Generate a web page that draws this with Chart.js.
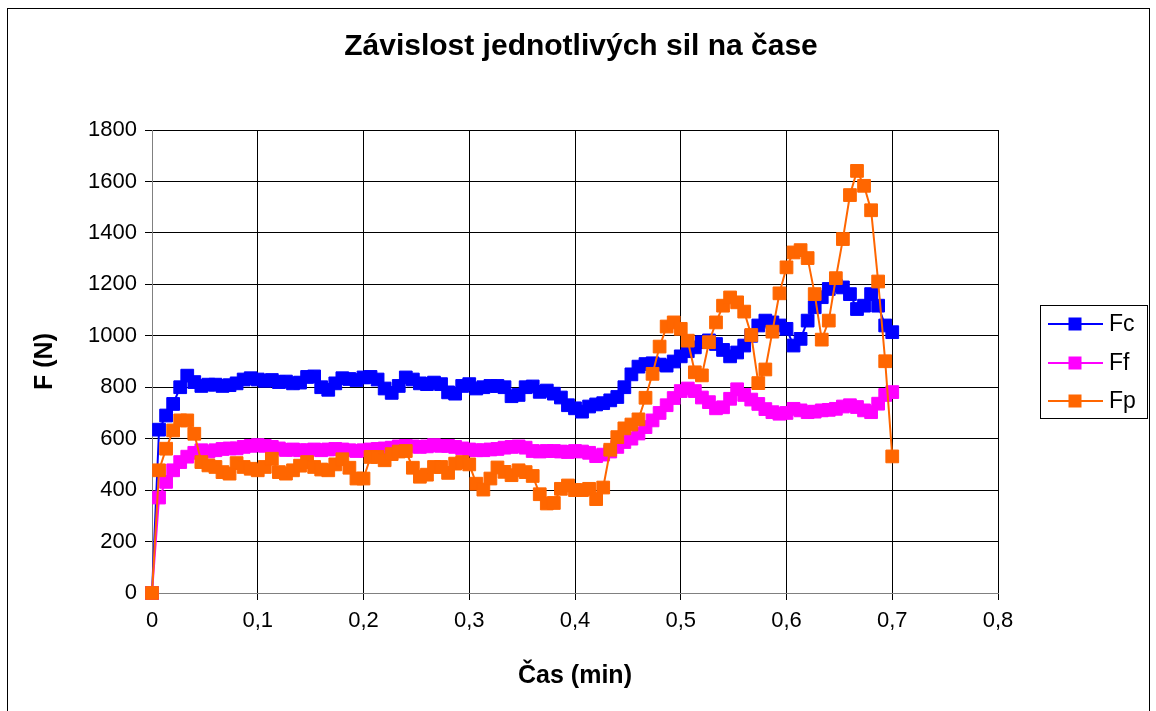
<!DOCTYPE html>
<html lang="cs">
<head>
    <meta charset="UTF-8">
    <title>Závislost jednotlivých sil na čase</title>
    <style>
        body { margin: 0; background: #fff; }
        canvas { display: block; }
    </style>
</head>
<body>
    <canvas id="myChart" width="1156" height="711"></canvas>
    <script src="https://cdn.jsdelivr.net/npm/chart.js"></script>
    <script>
        // sampling instants in seconds (one reading every 0.4 s)
        var timeSec = [0, 0.4, 0.8, 1.2, 1.6, 2, 2.4, 2.8, 3.2, 3.6, 4, 4.4, 4.8, 5.2, 5.6, 6, 6.4, 6.8, 7.2, 7.6,
            8, 8.4, 8.8, 9.2, 9.6, 10, 10.4, 10.8, 11.2, 11.6, 12, 12.4, 12.8, 13.2, 13.6, 14, 14.4, 14.8, 15.2, 15.6,
            16, 16.4, 16.8, 17.2, 17.6, 18, 18.4, 18.8, 19.2, 19.6, 20, 20.4, 20.8, 21.2, 21.6, 22, 22.4, 22.8, 23.2, 23.6,
            24, 24.4, 24.8, 25.2, 25.6, 26, 26.4, 26.8, 27.2, 27.6, 28, 28.4, 28.8, 29.2, 29.6, 30, 30.4, 30.8, 31.2, 31.6,
            32, 32.4, 32.8, 33.2, 33.6, 34, 34.4, 34.8, 35.2, 35.6, 36, 36.4, 36.8, 37.2, 37.6, 38, 38.4, 38.8, 39.2, 39.6,
            40, 40.4, 40.8, 41.2, 41.6, 42];

        var fc = [0, 635, 690, 735, 800, 845, 820, 805, 810, 810, 805, 808, 815, 830, 835, 830, 825, 828, 820, 822,
            815, 818, 840, 842, 800, 790, 815, 835, 832, 828, 838, 840, 830, 795, 778, 805, 838, 830, 815, 812,
            818, 812, 780, 775, 805, 812, 795, 800, 805, 805, 800, 765, 770, 800, 803, 782, 787, 775, 760, 730,
            718, 705, 725, 733, 738, 749, 762, 800, 850, 880, 890, 893, 888, 884, 900, 920, 940, 955, 975, 982,
            968, 945, 920, 935, 962, 1000, 1040, 1059, 1052, 1040, 1027, 962, 988, 1059, 1111, 1150, 1182, 1195, 1188, 1162,
            1104, 1117, 1162, 1117, 1040, 1014];

        var ff = [0, 371, 432, 477, 509, 530, 545, 555, 550, 555, 560, 562, 562, 568, 572, 575, 572, 568, 562, 556,
            558, 555, 555, 558, 555, 558, 560, 558, 555, 552, 555, 558, 560, 562, 565, 570, 572, 570, 568, 570,
            575, 572, 572, 568, 562, 558, 555, 555, 558, 560, 565, 568, 570, 565, 552, 550, 552, 552, 550, 548,
            552, 550, 545, 532, 538, 550, 568, 587, 600, 620, 645, 671, 700, 730, 758, 785, 795, 785, 760, 742,
            718, 722, 755, 792, 770, 752, 735, 715, 703, 697, 700, 716, 710, 703, 705, 710, 712, 716, 725, 730,
            723, 710, 703, 736, 770, 781];

        var fp = [0, 477, 561, 632, 671, 671, 619, 509, 496, 490, 470, 464, 505, 490, 483, 477, 490, 522, 470, 464,
            477, 495, 509, 490, 480, 477, 500, 520, 487, 445, 445, 529, 529, 516, 540, 550, 552, 487, 452, 460,
            490, 490, 467, 503, 509, 500, 425, 402, 445, 488, 471, 458, 477, 470, 455, 384, 348, 350, 405, 418,
            400, 400, 405, 365, 410, 557, 606, 640, 655, 675, 759, 852, 958, 1036, 1052, 1027, 981, 858, 846, 975,
            1052, 1117, 1149, 1130, 1094, 1003, 816, 869, 1016, 1165, 1266, 1324, 1333, 1302, 1162, 985, 1059, 1224, 1376, 1547,
            1641, 1583, 1488, 1211, 901, 531];

        var seriesNames = ['Fc', 'Ff', 'Fp'];
        var seriesColors = ['#0000ff', '#ff00ff', '#ff6600'];
        var xTicks = [0, 0.1, 0.2, 0.3, 0.4, 0.5, 0.6, 0.7, 0.8];
        var yTicks = [0, 200, 400, 600, 800, 1000, 1200, 1400, 1600, 1800];
        var chartTitle = 'Závislost jednotlivých sil na čase';

        var fontFamily = '"Liberation Sans", Arial, sans-serif';

        function toPoints(values){
            var pts = [];
            for(var i = 0; i < values.length; i++){
                pts.push({ x: timeSec[i] / 60, y: values[i] });
            }
            return pts;
        }

        function makeDataset(idx, values, order){
            return {
                label: seriesNames[idx],
                data: toPoints(values),
                borderColor: seriesColors[idx],
                backgroundColor: seriesColors[idx],
                borderWidth: 2,
                pointStyle: 'rect',
                pointRadius: 9,
                pointBorderWidth: 1,
                pointBackgroundColor: seriesColors[idx],
                pointBorderColor: seriesColors[idx],
                tension: 0,
                clip: false,
                order: order
            };
        }

        // white page, outer frame, title and the boxed legend on the right
        var framePlugin = {
            id: 'frame',
            beforeDraw: function(chart){
                var ctx = chart.ctx;
                ctx.save();
                ctx.fillStyle = '#fff';
                ctx.fillRect(0, 0, chart.width, chart.height);
                ctx.restore();
            },
            afterDraw: function(chart){
                var ctx = chart.ctx;
                ctx.save();
                ctx.strokeStyle = '#000';
                ctx.lineWidth = 1;
                ctx.strokeRect(7.5, 8.5, 1142, 720);

                ctx.fillStyle = '#000';
                ctx.font = 'bold 30px ' + fontFamily;
                ctx.textAlign = 'center';
                ctx.textBaseline = 'middle';
                ctx.fillText(chartTitle, 581, 47);

                ctx.strokeRect(1040.5, 305.5, 107, 113);
                var rows = [324, 363, 401];
                ctx.font = '23px ' + fontFamily;
                ctx.textAlign = 'left';
                for(var i = 0; i < seriesNames.length; i++){
                    var y = rows[i];
                    ctx.strokeStyle = seriesColors[i];
                    ctx.lineWidth = 2;
                    ctx.beginPath();
                    ctx.moveTo(1048, y);
                    ctx.lineTo(1103, y);
                    ctx.stroke();
                    ctx.fillStyle = seriesColors[i];
                    ctx.fillRect(1068.5, y - 6.5, 13, 13);
                    ctx.fillStyle = '#000';
                    ctx.fillText(seriesNames[i], 1109, y + 1);
                }
                ctx.restore();
            }
        };

        function createChart(){
            var ctx = document.getElementById('myChart').getContext('2d');
            new Chart(ctx, {
                type: 'line',
                data: {
                    datasets: [
                        makeDataset(0, fc, 3),
                        makeDataset(1, ff, 2),
                        makeDataset(2, fp, 1)
                    ]
                },
                options: {
                    responsive: false,
                    animation: false,
                    events: [],
                    layout: { padding: { left: 8, right: 158, top: 130, bottom: 8 } },
                    plugins: {
                        legend: { display: false },
                        tooltip: { enabled: false },
                        title: { display: false }
                    },
                    scales: {
                        x: {
                            type: 'linear',
                            min: 0,
                            max: 0.8,
                            afterBuildTicks: function(scale){
                                scale.ticks = xTicks.map(function(v){ return { value: v }; });
                            },
                            afterFit: function(scale){ scale.height = 110; },
                            ticks: {
                                color: '#000',
                                padding: 8,
                                font: { family: fontFamily, size: 22 },
                                callback: function(v){
                                    var r = Math.round(v * 10) / 10;
                                    return r === 0 ? '0' : r.toFixed(1).replace('.', ',');
                                }
                            },
                            grid: { color: '#000', lineWidth: 1, tickLength: 7 },
                            border: { color: '#808080', width: 1 },
                            title: {
                                display: true,
                                text: 'Čas (min)',
                                color: '#000',
                                font: { family: fontFamily, size: 25, weight: 'bold' },
                                padding: { top: 0, bottom: 12 }
                            }
                        },
                        y: {
                            min: 0,
                            max: 1800,
                            afterBuildTicks: function(scale){
                                scale.ticks = yTicks.map(function(v){ return { value: v }; });
                            },
                            afterFit: function(scale){ scale.width = 144; },
                            ticks: {
                                color: '#000',
                                padding: 8,
                                font: { family: fontFamily, size: 22 },
                                callback: function(v){ return String(v); }
                            },
                            grid: { color: '#000', lineWidth: 1, tickLength: 7 },
                            border: { color: '#808080', width: 1 },
                            title: {
                                display: true,
                                text: 'F (N)',
                                color: '#000',
                                font: { family: fontFamily, size: 25, weight: 'bold' },
                                padding: { top: 22, bottom: 0 }
                            }
                        }
                    }
                },
                plugins: [framePlugin]
            });
        }

        createChart();
    </script>
</body>
</html>
